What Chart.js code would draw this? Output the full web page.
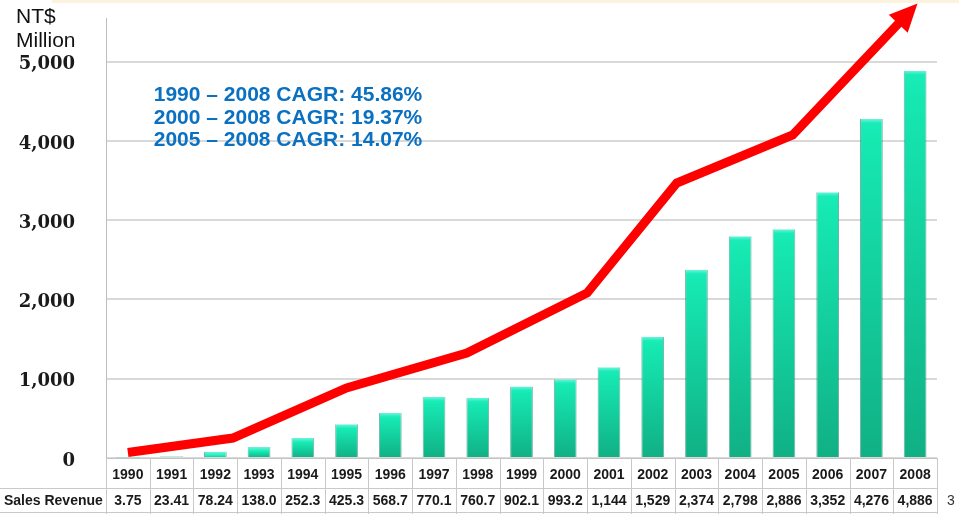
<!DOCTYPE html>
<html>
<head>
<meta charset="utf-8">
<script src="https://cdn.jsdelivr.net/npm/chart.js@4"></script>
<style>
  body { margin: 0; background: #ffffff; }
  canvas { display: block; }
</style>
</head>
<body>
<canvas id="grafico" width="959" height="514"></canvas>
<script>
// datos
let anios = ['1990','1991','1992','1993','1994','1995','1996','1997','1998','1999','2000','2001','2002','2003','2004','2005','2006','2007','2008']
let ventas = [3.75, 23.41, 78.24, 138.0, 252.3, 425.3, 568.7, 770.1, 760.7, 902.1, 993.2, 1144, 1529, 2374, 2798, 2886, 3352, 4276, 4886]
let ventasTexto = ['3.75','23.41','78.24','138.0','252.3','425.3','568.7','770.1','760.7','902.1','993.2','1,144','1,529','2,374','2,798','2,886','3,352','4,276','4,886']
// flecha roja (x en años, puede caer entre columnas)
let flechaX = [1990, 1992.4, 1995, 1997.75, 2000.5, 2002.55, 2005.2, 2007.63]
let flechaY = [70, 252, 883, 1324, 2081, 3469, 4074, 5487]
let ticksY = [0, 1000, 2000, 3000, 4000, 5000]
let textosCagr = ['1990 \u2013 2008 CAGR: 45.86%', '2000 \u2013 2008 CAGR: 19.37%', '2005 \u2013 2008 CAGR: 14.07%']
let etiquetaFila = 'Sales Revenue'
let unidad = ['NT$', 'Million']

let puntosFlecha = flechaX.map((x, i) => ({x: x, y: flechaY[i]}))

let colorBarra = (context) => {
    let chart = context.chart
    if (!chart.chartArea || context.type !== 'data') return '#1de0ae'
    let y = chart.scales.y
    let top = y.getPixelForValue(context.raw)
    let bot = y.getPixelForValue(0)
    let h = bot - top
    if (h < 2) return '#7fe6c8'
    let g = chart.ctx.createLinearGradient(0, top, 0, bot)
    let cap = Math.min(0.9, 4 / h)
    g.addColorStop(0, '#6ff4dc')
    g.addColorStop(cap, '#1aecb8')
    g.addColorStop(Math.min(0.95, cap + 0.05), '#16e8b2')
    g.addColorStop(1, '#10b084')
    return g
}

// tabla de abajo, textos y la punta de la flecha
let extras = {
    id: 'extras',
    beforeDraw: (chart) => {
        let c = chart.ctx
        c.save()
        c.fillStyle = '#fdf2de'
        c.fillRect(52, 0, 907, 3)
        c.restore()
    },
    afterDatasetsDraw: (chart) => {
        let c = chart.ctx
        let meta = chart.getDatasetMeta(0)
        let pts = meta.data
        let a = pts[pts.length - 2], b = pts[pts.length - 1]
        let dx = b.x - a.x, dy = b.y - a.y
        let len = Math.sqrt(dx * dx + dy * dy)
        let ux = dx / len, uy = dy / len
        let px = -uy, py = ux
        let largo = 27, ancho = 13
        c.save()
        c.fillStyle = '#ff0000'
        c.beginPath()
        c.moveTo(b.x + ux * largo, b.y + uy * largo)
        c.lineTo(b.x + px * ancho - ux * 1, b.y + py * ancho - uy * 1)
        c.lineTo(b.x - px * ancho - ux * 1, b.y - py * ancho - uy * 1)
        c.closePath()
        c.fill()
        c.restore()
    },
    afterDraw: (chart) => {
        let c = chart.ctx
        let area = chart.chartArea
        let x = chart.scales.x
        let colW = (area.right - area.left) / anios.length
        c.save()

        // lineas de la tabla
        c.strokeStyle = '#c9c9c9'
        c.lineWidth = 1
        c.beginPath()
        c.moveTo(0, 488.5); c.lineTo(area.right, 488.5)
        c.moveTo(0, 512.5); c.lineTo(area.right, 512.5)
        for (let i = 0; i <= anios.length; i++) {
            let lx = Math.round(area.left + i * colW) + 0.5
            c.moveTo(lx, area.bottom)
            c.lineTo(lx, 514)
        }
        c.stroke()

        c.fillStyle = '#1a1a1a'
        c.font = 'bold 14px "Liberation Sans", Arial, sans-serif'
        c.textBaseline = 'middle'
        c.textAlign = 'left'
        c.fillText(etiquetaFila, 4, 501)
        c.textAlign = 'center'
        for (let i = 0; i < ventasTexto.length; i++) {
            c.fillText(ventasTexto[i], x.getPixelForValue(i), 501)
        }

        c.font = '14px "Liberation Sans", Arial, sans-serif'
        c.fillStyle = '#333333'
        c.fillText('3', 951, 501)

        // unidad arriba a la izquierda
        c.textAlign = 'left'
        c.textBaseline = 'alphabetic'
        c.fillStyle = '#111111'
        c.font = '21px "Liberation Sans", Arial, sans-serif'
        c.fillText(unidad[0], 16, 23)
        c.fillText(unidad[1], 16, 47)

        // CAGR
        c.textAlign = 'center'
        c.fillStyle = '#0a70c2'
        c.font = 'bold 21px "Liberation Sans", Arial, sans-serif'
        textosCagr.forEach((t, i) => {
            c.fillText(t, 288, 101 + i * 22.5)
        })
        c.restore()
    }
}

new Chart(document.getElementById('grafico'), {
    data: {
        labels: anios,
        datasets: [
            {
                type: 'line',
                data: puntosFlecha,
                xAxisID: 'xt',
                yAxisID: 'y',
                borderColor: '#ff0000',
                borderWidth: 9,
                borderCapStyle: 'butt',
                borderJoinStyle: 'miter',
                pointRadius: 0,
                tension: 0,
                fill: false,
                clip: false,
                order: 0
            },
            {
                type: 'bar',
                data: ventas,
                xAxisID: 'x',
                yAxisID: 'y',
                backgroundColor: colorBarra,
                borderColor: 'rgba(0, 115, 85, 0.55)',
                borderWidth: {left: 1, right: 1, top: 0, bottom: 0},
                borderSkipped: 'bottom',
                grouped: false,
                categoryPercentage: 1,
                barPercentage: 0.52,
                order: 1
            }
        ]
    },
    options: {
        responsive: false,
        animation: false,
        devicePixelRatio: 1,
        layout: {
            padding: {left: 0, right: 22, top: 18, bottom: 0}
        },
        plugins: {
            legend: { display: false },
            tooltip: { enabled: false }
        },
        scales: {
            x: {
                type: 'category',
                position: 'bottom',
                offset: true,
                grid: { display: false, drawTicks: false },
                border: { display: true, color: '#c4c4c4', width: 1 },
                ticks: {
                    color: '#1a1a1a',
                    padding: 9,
                    maxRotation: 0,
                    autoSkip: false,
                    font: { family: '"Liberation Sans", Arial, sans-serif', size: 14, weight: 'bold' }
                },
                afterFit: (scale) => {
                    scale.height = 56
                    scale.paddingLeft = 0
                    scale.paddingRight = 0
                }
            },
            xt: {
                type: 'linear',
                display: false,
                min: 1989.5,
                max: 2008.5
            },
            y: {
                type: 'linear',
                min: 0,
                max: 5550,
                grid: { color: '#d9d9d9', lineWidth: 2, drawTicks: false },
                border: { display: true, color: '#bdbdbd', width: 1 },
                afterBuildTicks: (scale) => { scale.ticks = ticksY.map(v => ({value: v})) },
                ticks: {
                    color: '#1a1a1a',
                    padding: 31,
                    labelOffset: 3,
                    font: { family: '"DejaVu Serif", serif', size: 18, weight: 'bold' },
                    callback: (v) => v.toLocaleString('en-US')
                },
                afterFit: (scale) => {
                    scale.width = 106
                    scale.paddingTop = 0
                    scale.paddingBottom = 0
                }
            }
        }
    },
    plugins: [extras]
})
</script>
</body>
</html>
